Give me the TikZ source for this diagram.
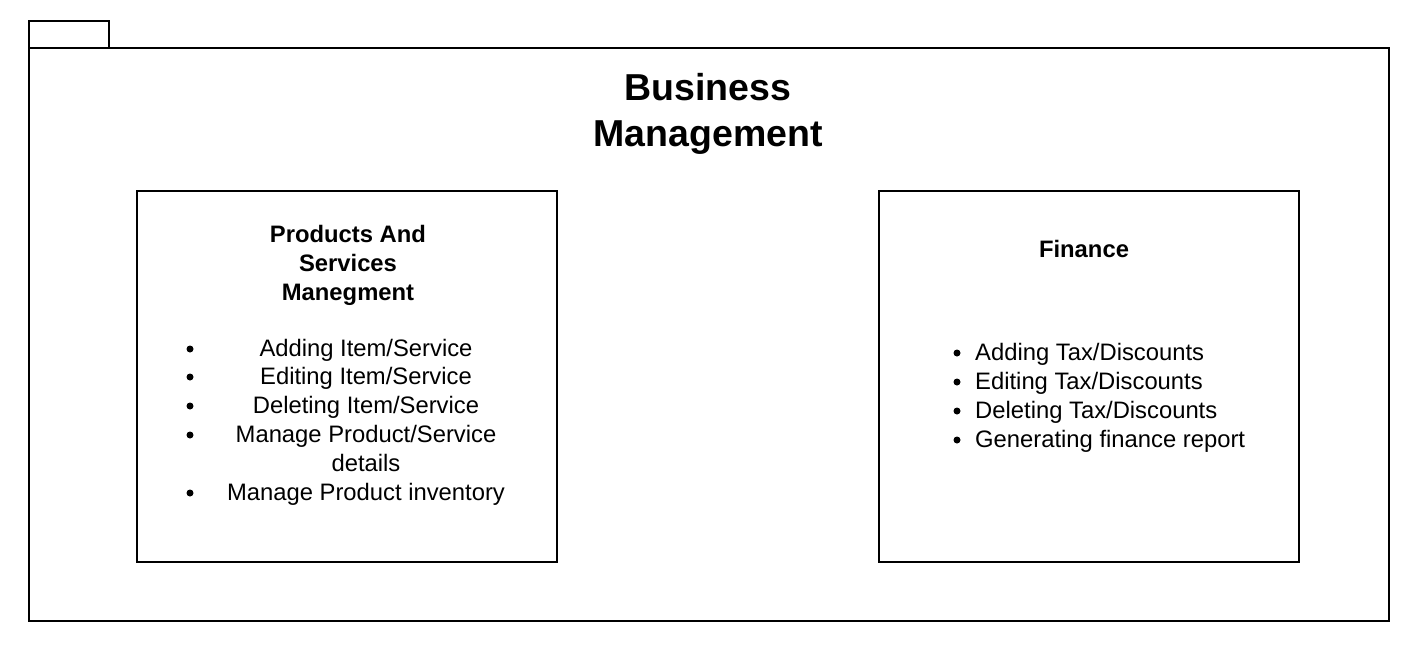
\documentclass[tikz,border=0pt]{standalone}
\usepackage{fontspec}
\setmainfont{Liberation Sans}
\begin{document}
\begin{tikzpicture}[x=1pt,y=-1pt,
  frame/.style={draw=black,line width=1.5pt},
  head/.style={font=\fontsize{23.8}{29}\selectfont\bfseries,align=center,inner sep=0},
  item/.style={font=\fontsize{23.8}{29}\selectfont,inner sep=0,anchor=base},
  bul/.style={circle,fill=black,inner sep=0,minimum size=7pt}]
\useasboundingbox (0,0) rectangle (1424,648);
\draw[frame] (29,48) rectangle (109,21);
\draw[frame] (29,48) rectangle (1389,621);
\node[font=\fontsize{37.5}{46}\selectfont\bfseries,align=center,inner sep=0] (title) at (708,114) {Business\\Management};
% left box
\draw[frame] (137,191) rectangle (557,562);
\node[head] (lhead) at (348,265) {Products And\\Services\\Manegment};
\node[item] (l1) at (366,356) {Adding Item/Service};
\node[item] (l2) at (366,384) {Editing Item/Service};
\node[item] (l3) at (366,413) {Deleting Item/Service};
\node[item] (l4) at (366,442) {Manage Product/Service};
\node[item] (l4b) at (366,471) {details};
\node[item] (l5) at (366,500) {Manage Product inventory};
\foreach \y/\n in {349/a,377/b,406/c,435/d,493/e} \node[bul] (lb\n) at (190,\y) {};
% right box
\draw[frame] (879,191) rectangle (1299,562);
\node[head] (rhead) at (1084,249) {Finance};
\node[item,anchor=base west] (r1) at (975,360) {Adding Tax/Discounts};
\node[item,anchor=base west] (r2) at (975,389) {Editing Tax/Discounts};
\node[item,anchor=base west] (r3) at (975,418) {Deleting Tax/Discounts};
\node[item,anchor=base west] (r4) at (975,447) {Generating finance report};
\foreach \y/\n in {353/a,382/b,411/c,440/d} \node[bul] (rb\n) at (957,\y) {};
\end{tikzpicture}
\end{document}
